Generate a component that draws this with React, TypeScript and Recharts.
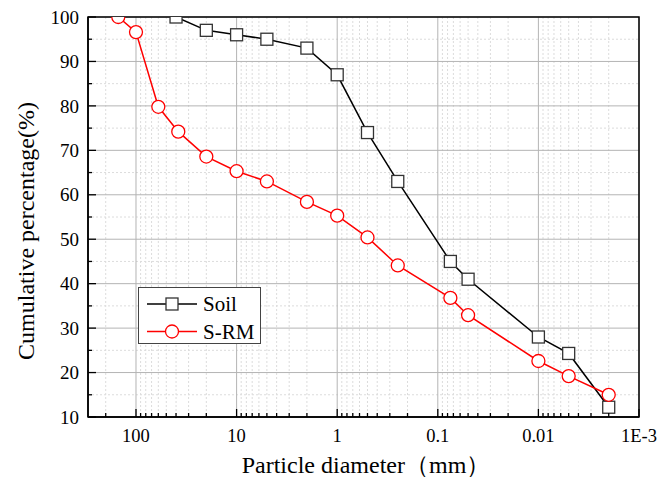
import { CartesianGrid, Legend, Line, LineChart, ReferenceArea, XAxis, YAxis } from "recharts";

const FONT = '"Liberation Serif", "Times New Roman", serif';

// particle diameter (mm) and cumulative passing (%)
const soilDiameter = [40, 20, 10, 5, 2, 1, 0.5, 0.25, 0.075, 0.05, 0.01, 0.005, 0.002];
const soilPercent = [100, 97, 96, 95, 93, 87, 74, 63, 45, 41, 28, 24.3, 12.2];
const srmDiameter = [150, 100, 60, 38, 20, 10, 5, 2, 1, 0.5, 0.25, 0.075, 0.05, 0.01, 0.005, 0.002];
const srmPercent = [100, 96.6, 79.8, 74.2, 68.6, 65.3, 63, 58.4, 55.3, 50.4, 44.1, 36.8, 32.9, 22.6, 19.2, 15];

const xMajorTicks = [100, 10, 1, 0.1, 0.01, 0.001];
const xMajorLabels = ["100", "10", "1", "0.1", "0.01", "1E-3"];
const xMinorTicks = [
  200, 90, 80, 70, 60, 50, 40, 30, 20,
  9, 8, 7, 6, 5, 4, 3, 2,
  0.9, 0.8, 0.7, 0.6, 0.5, 0.4, 0.3, 0.2,
  0.09, 0.08, 0.07, 0.06, 0.05, 0.04, 0.03, 0.02,
  0.009, 0.008, 0.007, 0.006, 0.005, 0.004, 0.003, 0.002,
];
const yMajorTicks = [10, 20, 30, 40, 50, 60, 70, 80, 90, 100];
const yMinorTicks = [15, 25, 35, 45, 55, 65, 75, 85, 95];

const soilData = soilDiameter.map((d, i) => ({ d, p: soilPercent[i] }));
const srmData = srmDiameter.map((d, i) => ({ d, p: srmPercent[i] }));

function XTick(props: any) {
  const { x, y, payload } = props;
  const idx = xMajorTicks.indexOf(payload.value);
  const major = idx >= 0;
  return (
    <g>
      <line x1={x} x2={x} y1={y} y2={y - (major ? 8 : 4)} stroke="#000" strokeWidth={1.3} />
      {major && (
        <text x={x} y={y + 25} textAnchor="middle" fontFamily={FONT} fontSize={18.5} fill="#000">
          {xMajorLabels[idx]}
        </text>
      )}
    </g>
  );
}

function YTick(props: any) {
  const { x, y, payload } = props;
  const major = yMajorTicks.includes(payload.value);
  return (
    <g>
      <line x1={x} x2={x + (major ? 8 : 4)} y1={y} y2={y} stroke="#000" strokeWidth={1.3} />
      {major && (
        <text x={x - 9} y={y} dy="0.35em" textAnchor="end" fontFamily={FONT} fontSize={19} fill="#000">
          {payload.value}
        </text>
      )}
    </g>
  );
}

function Square(props: any) {
  const { cx, cy } = props;
  if (cx == null || cy == null) return null;
  return <rect x={cx - 6} y={cy - 6} width={12} height={12} fill="#fff" stroke="#333" strokeWidth={1.3} />;
}

function Circle(props: any) {
  const { cx, cy } = props;
  if (cx == null || cy == null) return null;
  return <circle cx={cx} cy={cy} r={6.5} fill="#fff" stroke="#ff0000" strokeWidth={1.3} />;
}

function LegendBox() {
  return (
    <svg width={123} height={57}>
      <rect x={0.5} y={0.5} width={122} height={56} fill="#fff" stroke="#444" strokeWidth={1} />
      <line x1={9} x2={59} y1={17} y2={17} stroke="#000" strokeWidth={1.5} />
      <rect x={28} y={11} width={12} height={12} fill="#fff" stroke="#333" strokeWidth={1.3} />
      <text x={65} y={17} dy="0.35em" fontFamily={FONT} fontSize={21} fill="#000">Soil</text>
      <line x1={9} x2={59} y1={44.5} y2={44.5} stroke="#ff0000" strokeWidth={1.5} />
      <circle cx={34} cy={44.5} r={6.5} fill="#fff" stroke="#ff0000" strokeWidth={1.3} />
      <text x={65} y={44.5} dy="0.35em" fontFamily={FONT} fontSize={21} fill="#000">S-RM</text>
    </svg>
  );
}

function XTitle() {
  return (
    <text x={358} y={465} textAnchor="middle" fontFamily={FONT} fontSize={24} fill="#000">
      Particle diameter（mm）
    </text>
  );
}

function YTitle() {
  return (
    <text
      x={18}
      y={223}
      textAnchor="middle"
      dy="0.35em"
      transform="rotate(-90 18 223)"
      fontFamily={FONT}
      fontSize={24}
      fill="#000"
    >
      Cumulative percentage(%)
    </text>
  );
}

export default function App() {
  return (
    <div style={{ width: 663, height: 469, background: "#fff" }}>
      <LineChart width={663} height={469} margin={{ top: 9, right: 32, bottom: 0, left: 0 }}>
        <CartesianGrid
          verticalValues={xMinorTicks}
          horizontalValues={yMinorTicks}
          stroke="#dcdcdc"
          strokeDasharray="2 2"
        />
        <CartesianGrid verticalValues={xMajorTicks} horizontalValues={yMajorTicks} stroke="#b4b4b4" />
        <XAxis
          dataKey="d"
          type="number"
          scale="log"
          domain={[0.001, 300]}
          reversed
          allowDataOverflow
          ticks={[...xMajorTicks, ...xMinorTicks]}
          interval={0}
          tick={<XTick />}
          tickLine={false}
          tickSize={0}
          tickMargin={0}
          height={60}
          axisLine={{ stroke: "#000", strokeWidth: 1.5 }}
          label={<XTitle />}
        />
        <YAxis
          type="number"
          domain={[10, 100]}
          allowDataOverflow
          ticks={[...yMajorTicks, ...yMinorTicks]}
          interval={0}
          tick={<YTick />}
          tickLine={false}
          tickSize={0}
          tickMargin={0}
          width={80}
          axisLine={{ stroke: "#000", strokeWidth: 1.5 }}
          label={<YTitle />}
        />
        <ReferenceArea x1={0.001} x2={300} y1={10} y2={100} fill="none" stroke="#000" strokeWidth={1.5} />
        <Line
          data={soilData}
          dataKey="p"
          name="Soil"
          stroke="#000"
          strokeWidth={1.5}
          dot={<Square />}
          isAnimationActive={false}
        />
        <Line
          data={srmData}
          dataKey="p"
          name="S-RM"
          stroke="#ff0000"
          strokeWidth={1.5}
          dot={<Circle />}
          isAnimationActive={false}
        />
        <Legend
          layout="vertical"
          align="center"
          verticalAlign="middle"
          content={<LegendBox />}
          wrapperStyle={{ position: "absolute", left: 130, top: 279, width: 123, height: 57 }}
        />
      </LineChart>
    </div>
  );
}
